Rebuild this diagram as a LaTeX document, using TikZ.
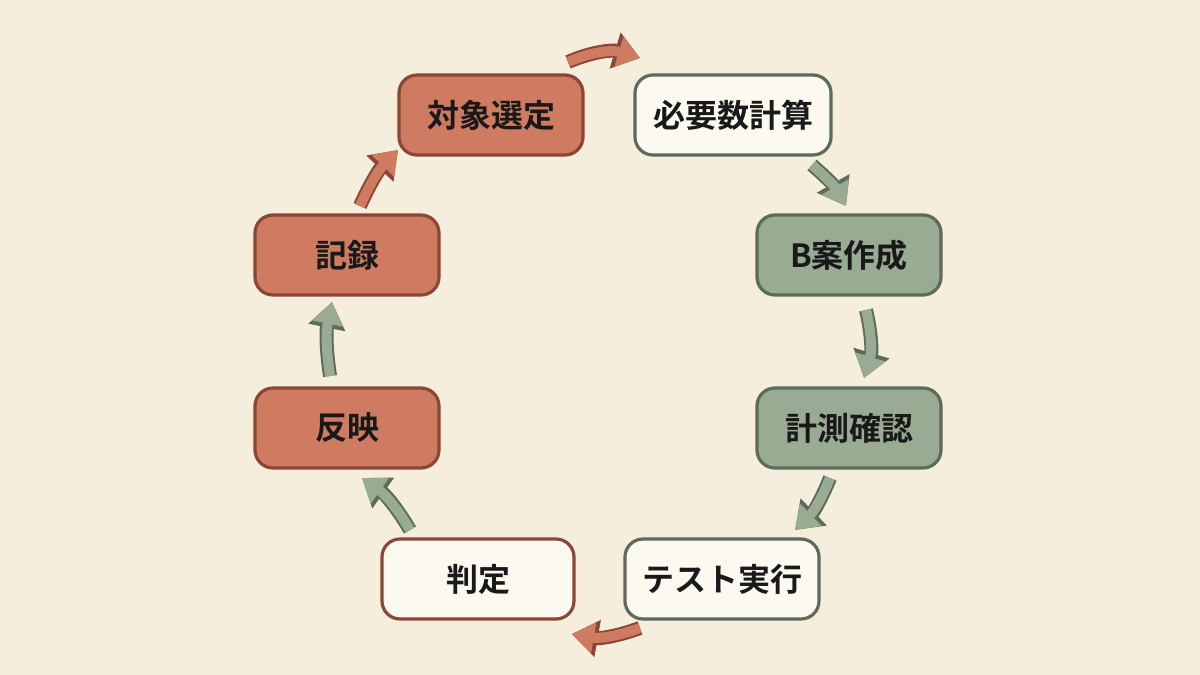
\documentclass[tikz,border=0pt]{standalone}
\usepackage{fontspec}
\newfontfamily\cjk{Noto Sans CJK JP}[BoldFont={Noto Sans CJK JP Bold}]
\usetikzlibrary{arrows.meta}
\definecolor{bg}{HTML}{F5EEDC}
\definecolor{rfill}{HTML}{CF7B62}
\definecolor{rline}{HTML}{8A4636}
\definecolor{gfill}{HTML}{9AAB93}
\definecolor{gline}{HTML}{5C6B5A}
\definecolor{wfill}{HTML}{FCF9F0}
\tikzset{
 box/.style={draw, rounded corners=9pt, line width=1.6pt, minimum width=92pt, minimum height=40pt, font=\cjk\bfseries\fontsize{16}{18}\selectfont, text=black!90},
 rbox/.style={box, fill=rfill, draw=rline},
 gbox/.style={box, fill=gfill, draw=gline},
 wgbox/.style={box, fill=wfill, draw=gline},
 wrbox/.style={box, fill=wfill, draw=rline},
 arr/.style={line width=5pt, draw=#1, -{Triangle[width=15pt,length=11pt]}},
 rarr/.style={preaction={draw=rline, line width=7pt, -{Triangle[width=18pt,length=13pt]}}, arr=rfill},
 garr/.style={preaction={draw=gline, line width=7pt, -{Triangle[width=18pt,length=13pt]}}, arr=gfill},
}
\begin{document}
\begin{tikzpicture}[x=0.5pt,y=-0.5pt]
\fill[bg] (0,0) rectangle (1200,675);
\useasboundingbox (0,0) rectangle (1200,675);
\node[rbox] (a) at (491,115) {対象選定};
\node[wgbox, minimum width=98pt] (b) at (733,115) {必要数計算};
\node[gbox] (c) at (849,255) {B案作成};
\node[gbox] (d) at (849,428) {計測確認};
\node[wgbox, minimum width=97pt] (e) at (722,579) {テスト実行};
\node[wrbox, minimum width=96pt] (f) at (478,579) {判定};
\node[rbox] (g) at (347,428) {反映};
\node[rbox] (h) at (347,255) {記録};
\coordinate (a1) at (568,62); \coordinate (a2) at (640,58);
\coordinate (b1) at (812,165); \coordinate (b2) at (846,206);
\coordinate (c1) at (866,310); \coordinate (c2) at (864,378);
\coordinate (d1) at (830,478); \coordinate (d2) at (795,530);
\coordinate (e1) at (640,628); \coordinate (e2) at (572,634);
\coordinate (f1) at (410,530); \coordinate (f2) at (362,478);
\coordinate (g1) at (330,376); \coordinate (g2) at (332,302);
\coordinate (h1) at (360,206); \coordinate (h2) at (398,150);
\draw[rarr] (a1) to[bend left=20] (a2);
\draw[garr] (b1) to[bend left=10] (b2);
\draw[garr] (c1) to[bend left=15] (c2);
\draw[garr] (d1) to[bend left=12] (d2);
\draw[rarr] (e1) to[bend left=15] (e2);
\draw[garr] (f1) to[bend right=12] (f2);
\draw[garr] (g1) to[bend left=10] (g2);
\draw[rarr] (h1) to[bend left=10] (h2);
\end{tikzpicture}
\end{document}
